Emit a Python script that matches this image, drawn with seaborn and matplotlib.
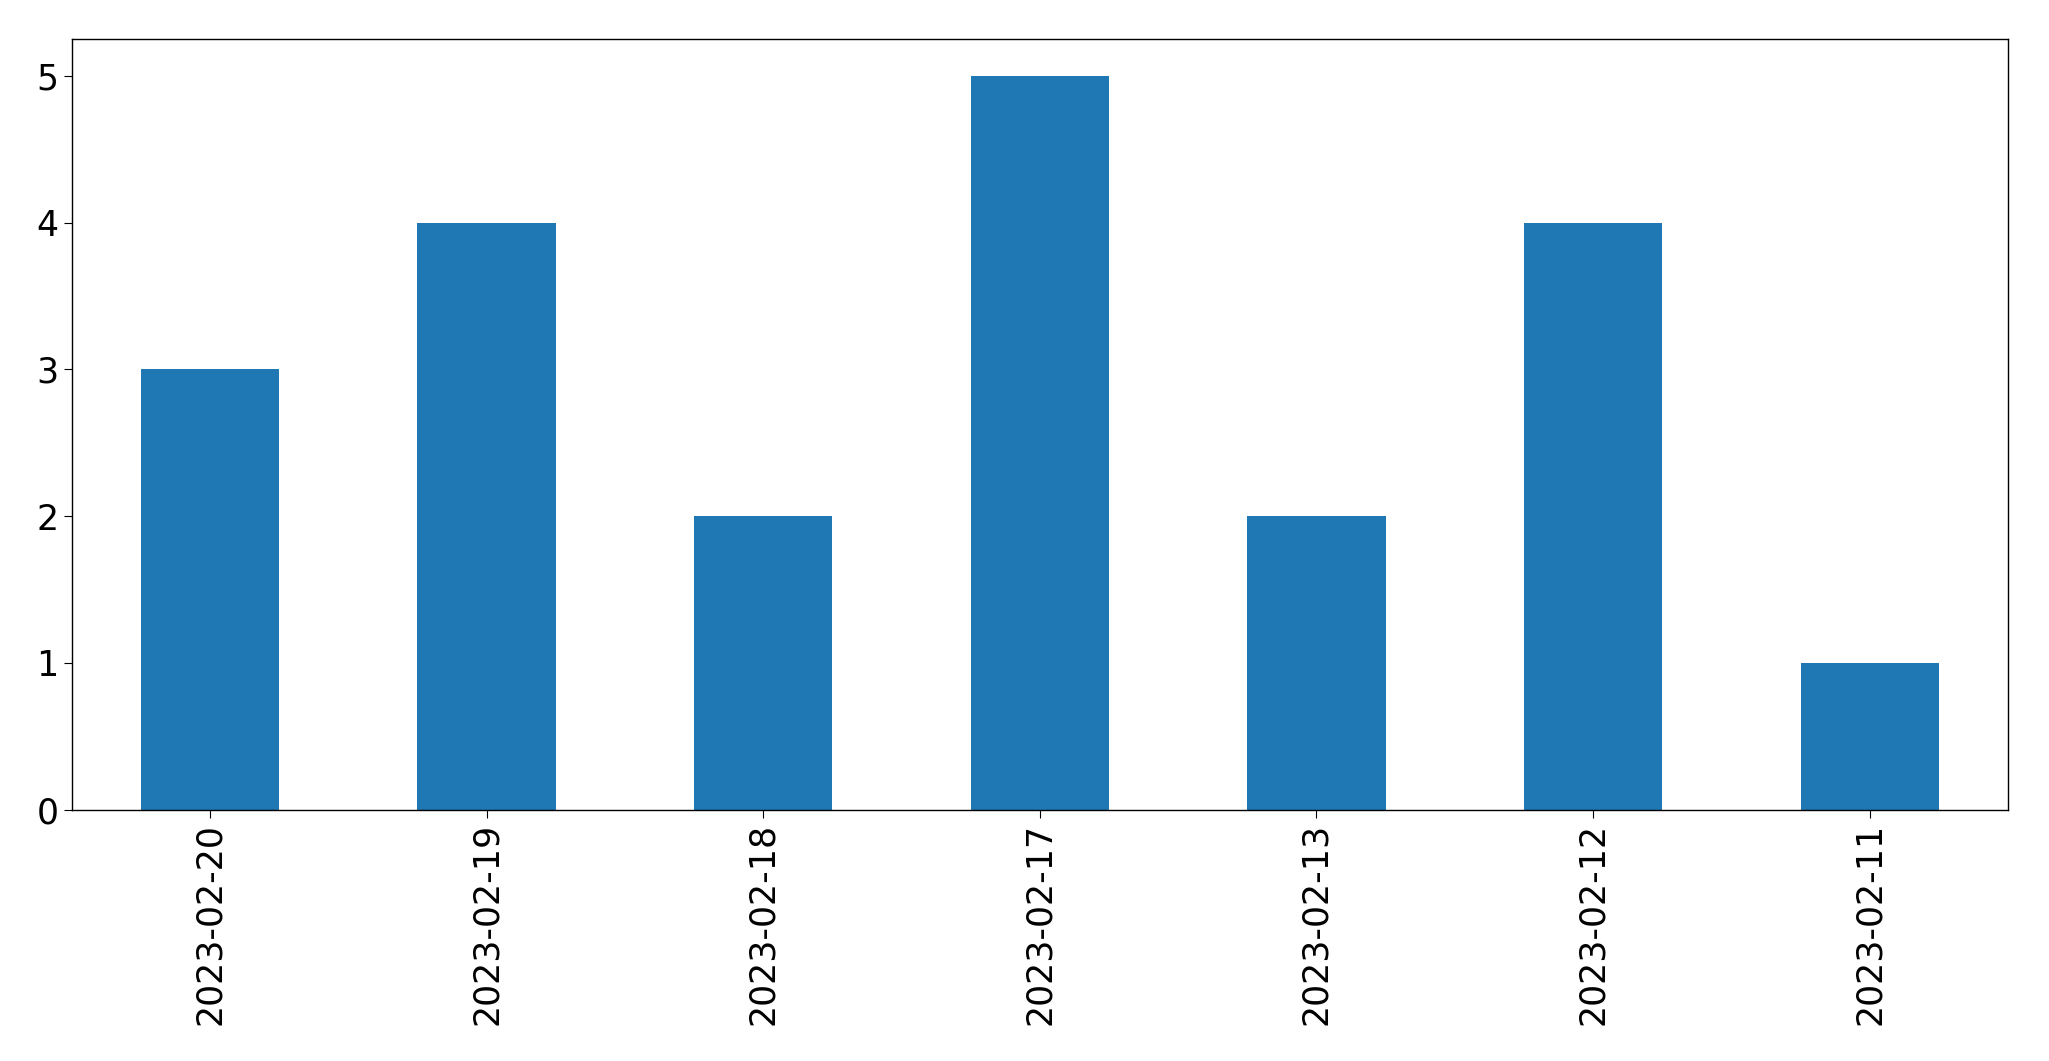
import pandas as pd
import matplotlib
matplotlib.use("Agg")
import matplotlib.pyplot as plt
import seaborn as sns

# Counts per date, in the order shown on the chart
dates = ["2023-02-20", "2023-02-19", "2023-02-18", "2023-02-17",
         "2023-02-13", "2023-02-12", "2023-02-11"]
counts = [3, 4, 2, 5, 2, 4, 1]

df = pd.DataFrame({"date": dates, "count": counts})

sns.set_style("ticks")
plt.rcParams["font.family"] = ["DejaVu Sans"]

fig, ax = plt.subplots(figsize=(20.49, 10.61), dpi=100)
fig.subplots_adjust(left=0.035, right=0.98, top=0.963, bottom=0.237)

sns.barplot(data=df, x="date", y="count", color="#1f77b4", saturation=1,
            width=0.5, order=dates, ax=ax, linewidth=0)

ax.set_xlim(-0.5, len(dates) - 0.5)
ax.set_ylim(0, 5.25)
ax.set_xlabel("")
ax.set_ylabel("")
ax.tick_params(axis="x", labelrotation=90, labelsize=25, length=6,
               colors="black")
ax.tick_params(axis="y", labelsize=25, length=6, colors="black")
for side in ["top", "right", "left", "bottom"]:
    ax.spines[side].set_visible(True)
    ax.spines[side].set_color("black")
    ax.spines[side].set_linewidth(1)

fig.savefig("out.png", dpi=100)
